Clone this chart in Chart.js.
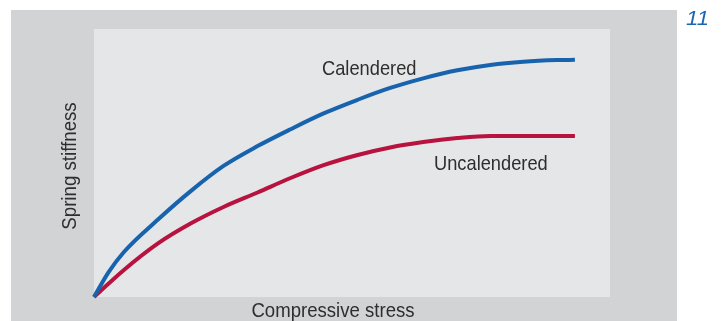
<!DOCTYPE html>
<html>
<head>
<meta charset="utf-8">
<script src="https://cdn.jsdelivr.net/npm/chart.js@4/dist/chart.umd.min.js"></script>
<style>
  html, body { margin: 0; padding: 0; background: #ffffff; }
  #wrap { width: 722px; height: 321px; position: relative; }
</style>
</head>
<body>
<div id="wrap"><canvas id="chart-stiffness"></canvas></div>
<script>
{ // scoping

// stress (x) vs stiffness (y), both in relative units 0..100
const calXs  = [0, 2.8, 5.8, 12.4, 18.8, 25.1, 31.7, 38.1, 44.5, 51.1, 57.4, 63.8, 70.4, 76.8, 83.2, 89.7, 93.2];
const calYs  = [0, 9.2, 16.8, 28.9, 39.6, 48.9, 56.3, 62.6, 68.5, 73.6, 78.0, 81.6, 84.6, 86.6, 87.8, 88.4, 88.5];
const uncXs  = [0, 5.8, 12.4, 18.8, 25.1, 31.7, 38.1, 44.5, 51.1, 57.4, 63.8, 70.4, 76.8, 93.2];
const uncYs  = [0, 10.1, 20.0, 27.5, 33.6, 39.0, 44.4, 49.2, 53.0, 55.8, 57.8, 59.3, 60.1, 60.1];

const seriesNames = ['Calendered', 'Uncalendered'];
const xTitle = 'Compressive stress';
const yTitle = 'Spring stiffness';
const figNumber = '11';

const pts = (xs, ys) => xs.map((x, i) => ({ x: x, y: ys[i] }));

const BLUE = '#1763ad';
const RED = '#b8123f';
const TEXT = '#2e2e2e';

// condensed text: scale horizontally since no condensed face is installed
function squeezeText(ctx, str, x, y, size, opts) {
  opts = opts || {};
  ctx.save();
  ctx.font = (opts.italic ? 'italic ' : '') + size + 'px "Liberation Sans", Arial, sans-serif';
  ctx.fillStyle = opts.color || TEXT;
  ctx.textBaseline = 'alphabetic';
  ctx.translate(x, y);
  if (opts.rotate) ctx.rotate(opts.rotate);
  ctx.scale(opts.sx || 0.87, 1);
  ctx.textAlign = opts.align || 'left';
  ctx.fillText(str, 0, 0);
  ctx.restore();
}

const backdrop = {
  id: 'backdrop',
  beforeDraw(chart) {
    const { ctx, chartArea } = chart;
    ctx.save();
    ctx.fillStyle = '#d2d3d5';
    ctx.fillRect(11, 10, 666, 311);
    ctx.fillStyle = '#e5e6e8';
    ctx.fillRect(chartArea.left, chartArea.top,
                 chartArea.right - chartArea.left, chartArea.bottom - chartArea.top);
    ctx.restore();
  },
  afterDraw(chart) {
    const { ctx } = chart;
    // axis titles
    squeezeText(ctx, xTitle, 333, 317, 21, { align: 'center', sx: 0.885 });
    squeezeText(ctx, yTitle, 76, 166, 21, { align: 'center', sx: 0.89, rotate: -Math.PI / 2 });
    // curve labels
    squeezeText(ctx, seriesNames[0], 322, 75, 21);
    squeezeText(ctx, seriesNames[1], 434, 170, 21);
    // figure number
    squeezeText(ctx, figNumber, 686, 25, 21, { italic: true, color: '#1a66b3', sx: 1.05 });
  }
};

const ctx = document.getElementById('chart-stiffness').getContext('2d');

new Chart(ctx, {
  type: 'line',
  data: {
    datasets: [{
      label: seriesNames[0],
      data: pts(calXs, calYs),
      borderColor: BLUE,
      borderWidth: 4,
      pointRadius: 0,
      cubicInterpolationMode: 'monotone',
      clip: false
    }, {
      label: seriesNames[1],
      data: pts(uncXs, uncYs),
      borderColor: RED,
      borderWidth: 4,
      pointRadius: 0,
      cubicInterpolationMode: 'monotone',
      clip: false
    }]
  },
  options: {
    responsive: true,
    maintainAspectRatio: false,
    animation: false,
    layout: { padding: { left: 94, right: 112, top: 29, bottom: 24 } },
    plugins: { legend: { display: false }, tooltip: { enabled: false } },
    scales: {
      x: { type: 'linear', min: 0, max: 100, display: false },
      y: { type: 'linear', min: 0, max: 100, display: false }
    }
  },
  plugins: [backdrop]
});

} // scoping
</script>
</body>
</html>
